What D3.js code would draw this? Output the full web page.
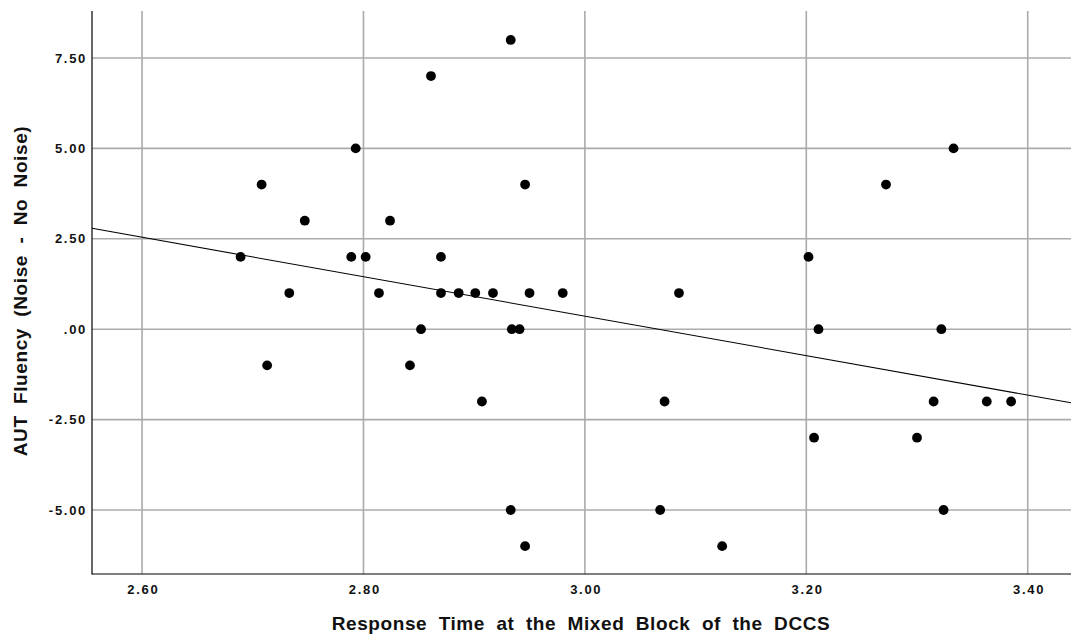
<!DOCTYPE html>
<html>
<head>
<meta charset="utf-8">
<script src="https://cdn.jsdelivr.net/npm/d3@7"></script>
<style>
  body { margin: 0; background: #fff; }
  text { font-family: "Liberation Sans", Arial, sans-serif; font-weight: bold; }
</style>
</head>
<body>
<div id="container"></div>
<script>
let w = 1071;
let h = 639;

// response time (x) and fluency difference (y)
let responseTime = [2.689, 2.708, 2.713, 2.733, 2.747, 2.789, 2.793, 2.802, 2.814, 2.824,
  2.842, 2.852, 2.861, 2.870, 2.870, 2.886, 2.901, 2.917, 2.907, 2.933,
  2.946, 2.934, 2.941, 2.933, 2.946, 2.950, 2.980, 3.068, 3.072, 3.085,
  3.124, 3.202, 3.207, 3.211, 3.272, 3.300, 3.315, 3.322, 3.324, 3.333,
  3.363, 3.385];
let fluencyDiff = [2, 4, -1, 1, 3, 2, 5, 2, 1, 3,
  -1, 0, 7, 2, 1, 1, 1, 1, -2, 8,
  4, 0, 0, -5, -6, 1, 1, -5, -2, 1,
  -6, 2, -3, 0, 4, -3, -2, 0, -5, 5,
  -2, -2];

let xTicks = [2.6, 2.8, 3.0, 3.2, 3.4];
let xTickLabels = ["2.60", "2.80", "3.00", "3.20", "3.40"];
let yTicks = [7.5, 5, 2.5, 0, -2.5, -5];
let yTickLabels = ["7.50", "5.00", "2.50", ".00", "-2.50", "-5.00"];

let xTitle = "Response Time at the Mixed Block of the DCCS";
let yTitle = "AUT Fluency (Noise - No Noise)";

let viz = d3.select("#container")
  .append("svg")
    .attr("width", w)
    .attr("height", h);

let plotLeft = 92, plotTop = 11, plotRight = 1071, plotBottom = 574;

let xScale = d3.scaleLinear().domain([2.5548, 3.4391]).range([plotLeft, plotRight]);
let yScale = d3.scaleLinear().domain([-6.77, 8.80]).range([plotBottom, plotTop]);

let points = responseTime.map((x, i) => ({x: x, y: fluencyDiff[i]}));

// grid
let grid = viz.append("g").attr("class", "grid");
grid.selectAll(".vgrid").data(xTicks).enter()
  .append("line")
  .attr("x1", d => xScale(d)).attr("x2", d => xScale(d))
  .attr("y1", plotTop).attr("y2", plotBottom)
  .attr("stroke", "#ababab").attr("stroke-width", 1.6);
grid.selectAll(".hgrid").data(yTicks).enter()
  .append("line")
  .attr("x1", plotLeft).attr("x2", plotRight)
  .attr("y1", d => yScale(d)).attr("y2", d => yScale(d))
  .attr("stroke", "#ababab").attr("stroke-width", 1.6);

// axes
let xAxis = d3.axisBottom(xScale).tickValues(xTicks).tickSize(0).tickPadding(11)
  .tickFormat((d, i) => xTickLabels[i]);
let xAxisGroup = viz.append("g").attr("transform", "translate(0," + plotBottom + ")").call(xAxis);
xAxisGroup.select(".domain").remove();

let yAxis = d3.axisLeft(yScale).tickValues(yTicks).tickSize(0).tickPadding(5)
  .tickFormat((d, i) => yTickLabels[i]);
let yAxisGroup = viz.append("g").attr("transform", "translate(" + plotLeft + ",0)").call(yAxis);
yAxisGroup.select(".domain").remove();

viz.selectAll(".tick text")
  .attr("font-family", "Liberation Sans, Arial, sans-serif")
  .attr("font-weight", "bold")
  .attr("font-size", 13)
  .attr("letter-spacing", 1.7)
  .attr("fill", "#111");
// centre x labels despite trailing letter spacing
xAxisGroup.selectAll(".tick text").attr("dx", 0.85);

viz.append("line").attr("x1", plotLeft).attr("x2", plotLeft).attr("y1", plotTop).attr("y2", plotBottom + 0.5)
  .attr("stroke", "black").attr("stroke-width", 1.2);
viz.append("line").attr("x1", plotLeft).attr("x2", plotRight).attr("y1", plotBottom).attr("y2", plotBottom)
  .attr("stroke", "black").attr("stroke-width", 1.2);

// least squares fit line
let mx = d3.mean(points, d => d.x);
let my = d3.mean(points, d => d.y);
let sxy = d3.sum(points, d => (d.x - mx) * (d.y - my));
let sxx = d3.sum(points, d => (d.x - mx) * (d.x - mx));
let slope = sxy / sxx;
let intercept = my - slope * mx;
let xd = xScale.domain();
viz.append("line")
  .attr("x1", xScale(xd[0])).attr("y1", yScale(intercept + slope * xd[0]))
  .attr("x2", xScale(xd[1])).attr("y2", yScale(intercept + slope * xd[1]))
  .attr("stroke", "black").attr("stroke-width", 1.1);

// dots
viz.selectAll(".dot").data(points).enter()
  .append("circle")
  .attr("class", "dot")
  .attr("cx", d => xScale(d.x))
  .attr("cy", d => yScale(d.y))
  .attr("r", 4.9)
  .attr("fill", "black");

// titles
viz.append("text")
  .attr("x", 581).attr("y", 630)
  .attr("text-anchor", "middle")
  .attr("font-size", 19)
  .attr("letter-spacing", 0.6)
  .attr("word-spacing", 5.5)
  .attr("fill", "#111")
  .text(xTitle);

viz.append("text")
  .attr("transform", "translate(26.5,291) rotate(-90)")
  .attr("text-anchor", "middle")
  .attr("font-size", 19)
  .attr("letter-spacing", 0.6)
  .attr("word-spacing", 5.5)
  .attr("fill", "#111")
  .text(yTitle);
</script>
</body>
</html>
